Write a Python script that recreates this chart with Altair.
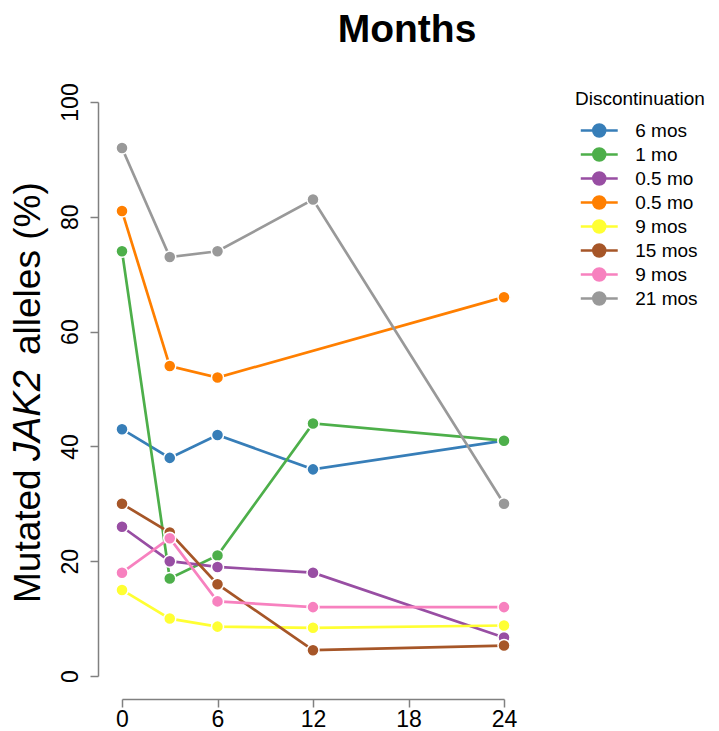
import altair as alt
import pandas as pd

# Follow-up time points (months) and mutated JAK2 allele burden (%) per patient
months = [0, 3, 6, 12, 24]
months_orange = [0, 3, 6, 24]

series_ids = ["s1", "s2", "s3", "s4", "s5", "s6", "s7", "s8"]
series_labels = ["6 mos", "1 mo", "0.5 mo", "0.5 mo", "9 mos", "15 mos", "9 mos", "21 mos"]
palette = ["#377EB8", "#4DAF4A", "#984EA3", "#FF7F00",
           "#FFFF33", "#A65628", "#F781BF", "#999999"]

vals_blue = [43, 38, 42, 36, 41]
vals_green = [74, 17, 21, 44, 41]
vals_purple = [26, 20, 19, 18, 6.7]
vals_orange = [81, 54, 52, 66]
vals_yellow = [15, 10, 8.6, 8.4, 8.8]
vals_brown = [30, 25, 16, 4.5, 5.3]
vals_pink = [18, 24, 13, 12, 12]
vals_gray = [92, 73, 74, 83, 30]

series_x = [months, months, months, months_orange, months, months, months, months]
series_y = [vals_blue, vals_green, vals_purple, vals_orange,
            vals_yellow, vals_brown, vals_pink, vals_gray]

rows = []
for sid, xs, ys in zip(series_ids, series_x, series_y):
    for m, v in zip(xs, ys):
        rows.append({"series": sid, "month": m, "pct": v})
df = pd.DataFrame(rows)

FONT = "Liberation Sans"
AXIS_GRAY = "#808080"

ids_js = "[" + ",".join(f"'{s}'" for s in series_ids) + "]"
labels_js = "[" + ",".join(f"'{s}'" for s in series_labels) + "]"
label_expr = f"{labels_js}[indexof({ids_js}, datum.value)]"

# Legend glyph: short line with a dot in the middle
legend_path = ("M-2.64,0L2.64,0M-0.857,0A0.857,0.857,0,1,1,0.857,0"
               "A0.857,0.857,0,1,1,-0.857,0Z")

x_enc = alt.X(
    "month:Q",
    scale=alt.Scale(domain=[0, 24], nice=False, zero=False),
    axis=alt.Axis(values=[0, 6, 12, 18, 24], title=None, grid=False,
                  offset=23, tickSize=8, labelPadding=1,
                  labelFontSize=23, labelColor="black", labelFont=FONT,
                  domainColor=AXIS_GRAY, tickColor=AXIS_GRAY,
                  domainWidth=1.5, tickWidth=1.5, labelFlush=False),
)
y_enc = alt.Y(
    "pct:Q",
    scale=alt.Scale(domain=[0, 100], nice=False),
    axis=alt.Axis(values=[0, 20, 40, 60, 80, 100], title=None, grid=False,
                  offset=24, tickSize=8, labelPadding=8, labelAngle=270,
                  labelAlign="center", labelBaseline="bottom",
                  labelFontSize=23, labelColor="black", labelFont=FONT,
                  domainColor=AXIS_GRAY, tickColor=AXIS_GRAY,
                  domainWidth=1.5, tickWidth=1.5, labelFlush=False),
)
color_enc = alt.Color(
    "series:N",
    scale=alt.Scale(domain=series_ids, range=palette),
    legend=alt.Legend(
        title="Discontinuation", orient="none", legendX=453, legendY=-12,
        labelExpr=label_expr, symbolType=legend_path, symbolSize=196,
        symbolStrokeWidth=2.5, symbolOffset=14.75, labelOffset=26.5,
        labelFontSize=19, labelFont=FONT, labelColor="black",
        titleFontSize=19, titleFont=FONT, titleFontWeight="normal",
        titleColor="black", titlePadding=12, rowPadding=1, padding=0,
        labelBaseline="middle",
    ),
)

base = alt.Chart(df)
lines = base.mark_line(strokeWidth=2.7).encode(x=x_enc, y=y_enc, color=color_enc)
points = base.mark_point(filled=True, size=145, opacity=1, stroke="white",
                         strokeWidth=1.5).encode(
    x="month:Q", y="pct:Q",
    fill=alt.Color("series:N", scale=alt.Scale(domain=series_ids, range=palette), legend=None),
    color=color_enc,
)

# Y-axis title with italic gene name, written in three rotated pieces
title_parts = pd.DataFrame({
    "txt": ["Mutated", "JAK2", "alleles (%)"],
    "ypos": [501, 359, 253],
    "sty": ["normal", "italic", "normal"],
})
ytitle_normal = alt.Chart(title_parts[title_parts.sty == "normal"]).mark_text(
    angle=270, align="left", baseline="alphabetic", fontSize=37, font=FONT,
    color="black",
).encode(text="txt:N", x=alt.value(-82), y=alt.Y("ypos:Q", scale=None))
ytitle_italic = alt.Chart(title_parts[title_parts.sty == "italic"]).mark_text(
    angle=270, align="left", baseline="alphabetic", fontSize=38, font=FONT,
    fontStyle="italic", color="black",
).encode(text="txt:N", x=alt.value(-82), y=alt.Y("ypos:Q", scale=None))

main_title = alt.Chart(pd.DataFrame({"t": ["Months"]})).mark_text(
    align="center", baseline="alphabetic", fontSize=39, font=FONT,
    fontWeight="bold", color="black",
).encode(text="t:N", x=alt.value(285), y=alt.value(-60))

chart = alt.layer(lines, points, ytitle_normal, ytitle_italic, main_title).properties(
    width=382, height=574,
    autosize=alt.AutoSizeParams(type="none"),
    padding={"left": 122, "top": 102, "right": 215, "bottom": 55},
    background="white",
).configure_view(stroke=None)

chart.save("out.html", embed_options={"renderer": "svg", "actions": False})
